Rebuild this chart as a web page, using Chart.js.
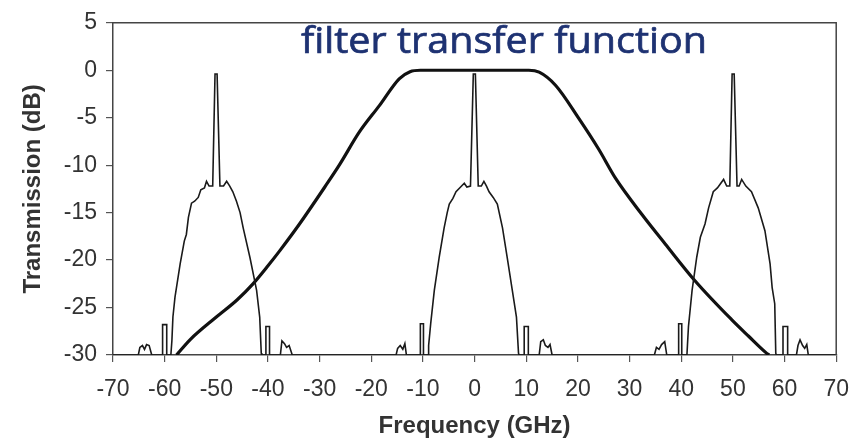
<!DOCTYPE html>
<html>
<head>
<meta charset="utf-8">
<script src="https://cdn.jsdelivr.net/npm/chart.js@4.4.0/dist/chart.umd.min.js"></script>
<style>
html, body { margin: 0; padding: 0; background: #fff; }
</style>
</head>
<body>
<canvas id="chart" width="863" height="444"></canvas>
<script>
var plotTitle = "filter transfer function";
var xTitle = "Frequency (GHz)";
var yTitle = "Transmission (dB)";
var xTicks = [-70, -60, -50, -40, -30, -20, -10, 0, 10, 20, 30, 40, 50, 60, 70];
var yTicks = [-30, -25, -20, -15, -10, -5, 0, 5];

/* measured spectrum, channel at -50 GHz */
var leftFreq = [-70, -65.1, -64.8, -64.3, -63.9, -63.5, -63.0, -62.5, -60.4, -60.4, -59.6, -59.6, -58.8, -58.6, -58.4, -58.0, -57.0, -56.2, -55.8, -55.4, -54.8, -54.2, -53.5, -53.0, -52.3, -51.9, -51.4, -50.7, -50.25, -49.85, -49.3, -48.6, -48.0, -47.4, -46.8, -46.1, -45.4, -44.8, -43.5, -42.2, -41.6, -41.3, -41.2, -40.4, -40.4, -39.7, -39.7, -37.6, -37.3, -36.8, -36.4, -35.9, -35.3];
var leftDb = [-30, -30, -29.2, -29.0, -29.4, -28.9, -29.0, -30, -30, -26.8, -26.8, -30, -30, -28.5, -26.0, -23.9, -20.4, -18.0, -17.3, -15.5, -14.0, -13.8, -13.4, -12.6, -12.4, -11.7, -12.2, -12.2, -0.4, -0.4, -12.2, -12.2, -11.7, -12.2, -12.8, -13.8, -15.0, -16.6, -19.7, -23.2, -26.0, -29.8, -30, -30, -27.0, -27.0, -30, -30, -28.5, -28.8, -29.2, -29.0, -30];

/* channel at 0 GHz */
var centerFreq = [-15.2, -14.9, -14.4, -13.9, -13.5, -13.2, -10.5, -10.5, -9.9, -9.9, -9.0, -8.9, -8.5, -7.8, -6.85, -5.9, -5.3, -4.9, -4.2, -3.6, -2.9, -2.0, -1.5, -0.8, -0.25, 0.15, 0.7, 1.3, 1.8, 2.3, 2.8, 3.6, 4.4, 5.4, 6.3, 7.3, 8.1, 8.5, 8.6, 9.6, 9.6, 10.4, 10.4, 12.5, 12.8, 13.3, 13.7, 14.2, 14.6, 15.0];
var centerDb = [-30, -29.3, -29.0, -29.4, -28.8, -30, -30, -26.7, -26.7, -30, -30, -29.0, -26.7, -23.2, -19.7, -16.6, -15.0, -14.1, -13.5, -12.8, -12.4, -11.9, -12.3, -12.2, -0.4, -0.4, -12.2, -12.2, -11.7, -12.2, -12.8, -13.4, -14.1, -16.6, -19.7, -23.2, -26.0, -29.8, -30, -30, -27.0, -27.0, -30, -30, -28.6, -28.4, -29.0, -29.2, -28.9, -30];

/* channel at +50 GHz */
var rightFreq = [34.8, 35.2, 35.7, 36.2, 36.8, 37.2, 39.5, 39.5, 40.1, 40.1, 41.1, 41.2, 41.4, 42.1, 43.0, 43.7, 44.6, 45.3, 46.2, 47.0, 48.2, 48.8, 49.4, 49.85, 50.25, 50.8, 51.2, 51.7, 52.5, 53.6, 54.9, 56.2, 57.2, 57.6, 58.1, 58.3, 58.4, 59.7, 59.7, 60.6, 60.6, 62.3, 62.6, 63.0, 63.5, 63.9, 64.3, 64.6, 70];
var rightDb = [-30, -29.2, -29.4, -28.9, -28.6, -30, -30, -26.7, -26.7, -30, -30, -29.0, -27.0, -23.2, -19.7, -17.6, -16.2, -14.5, -12.8, -12.4, -11.5, -12.2, -12.2, -0.4, -0.4, -12.2, -12.2, -11.5, -12.2, -12.8, -14.5, -16.9, -20.4, -22.9, -24.6, -29.8, -30, -30, -27.0, -27.0, -30, -30, -29.0, -28.4, -29.0, -29.3, -28.9, -30, -30];

/* filter transfer function */
var filterFreq = [-57.7, -55.1, -50, -46, -42.9, -40, -37.7, -33.9, -29, -26.2, -22.3, -18.4, -14.6, -12.5, -10.5, 10.5, 12.5, 15.7, 20.2, 24.0, 27.3, 32.4, 36.9, 42.7, 49.8, 53, 56.5, 57];
var filterDb = [-30, -28.4, -26.0, -24.2, -22.5, -20.6, -19.0, -16.2, -12.3, -10.0, -6.5, -3.7, -0.9, -0.15, 0, 0, -0.2, -1.6, -5.1, -8.3, -11.4, -15.2, -18.3, -22.2, -26.3, -28.0, -29.8, -30];

function toPoints(xs, ys) {
    var pts = [];
    for (var i = 0; i < xs.length; i++) {
        pts.push({x: xs[i], y: ys[i]});
    }
    return pts;
}

var spectrum = toPoints(leftFreq.concat(centerFreq, rightFreq), leftDb.concat(centerDb, rightDb));
var filter = toPoints(filterFreq, filterDb);

/* plot title inside the frame */
var titlePlugin = {
    id: "plotTitle",
    afterDatasetsDraw: function(chart) {
        var ctx = chart.ctx;
        ctx.save();
        ctx.font = '37px "Open Sans"';
        ctx.fillStyle = "#1e3272";
        ctx.strokeStyle = "#1e3272";
        ctx.lineWidth = 0.7;
        ctx.textBaseline = "alphabetic";
        var w = ctx.measureText(plotTitle).width;
        ctx.translate(301, 53);
        ctx.scale(406 / w, 1);
        ctx.fillText(plotTitle, 0, 0);
        ctx.strokeText(plotTitle, 0, 0);
        ctx.restore();
    }
};

/* top and right edges of the box */
var framePlugin = {
    id: "frame",
    afterDraw: function(chart) {
        var a = chart.chartArea;
        var ctx = chart.ctx;
        ctx.save();
        ctx.strokeStyle = "#444";
        ctx.lineWidth = 1.5;
        ctx.beginPath();
        ctx.moveTo(a.left, a.top);
        ctx.lineTo(a.right, a.top);
        ctx.lineTo(a.right, a.bottom);
        ctx.stroke();
        ctx.restore();
    }
};

var ctx = document.getElementById("chart").getContext("2d");
var myChart = new Chart(ctx, {
    type: "scatter",
    data: {
        datasets: [
            {
                label: "spectrum",
                data: spectrum,
                showLine: true,
                borderColor: "#1a1a1a",
                borderWidth: 1.6,
                pointRadius: 0,
                tension: 0
            },
            {
                label: "filter",
                data: filter,
                showLine: true,
                borderColor: "#111",
                borderWidth: 3.2,
                pointRadius: 0,
                cubicInterpolationMode: "monotone"
            }
        ]
    },
    options: {
        responsive: false,
        animation: false,
        layout: { padding: { left: 0, top: 20, right: 25, bottom: 0 } },
        plugins: {
            legend: { display: false },
            tooltip: { enabled: false }
        },
        scales: {
            x: {
                type: "linear",
                min: -70,
                max: 70,
                afterBuildTicks: function(scale) {
                    scale.ticks = xTicks.map(function(v) { return {value: v}; });
                },
                afterFit: function(scale) { scale.height = 89; },
                grid: { drawOnChartArea: false, tickLength: 7, color: "#555", lineWidth: 1.2 },
                border: { color: "#444", width: 1.5 },
                ticks: {
                    padding: 14,
                    color: "#333",
                    font: { family: "Liberation Sans", size: 23 },
                    maxRotation: 0,
                    autoSkip: false
                },
                title: {
                    display: true,
                    text: xTitle,
                    color: "#333",
                    font: { family: "Liberation Sans", size: 24, weight: "bold" },
                    padding: { top: 0, bottom: 3 }
                }
            },
            y: {
                min: -30,
                max: 5,
                afterBuildTicks: function(scale) {
                    scale.ticks = yTicks.map(function(v) { return {value: v}; });
                },
                afterFit: function(scale) { scale.width = 113; },
                grid: { drawOnChartArea: false, tickLength: 7, color: "#555", lineWidth: 1.2 },
                border: { color: "#444", width: 1.5 },
                ticks: {
                    padding: 9,
                    color: "#333",
                    font: { family: "Liberation Sans", size: 23 }
                },
                title: {
                    display: true,
                    text: yTitle,
                    color: "#333",
                    font: { family: "Liberation Sans", size: 24, weight: "bold" },
                    padding: { top: 19, bottom: 0 }
                }
            }
        }
    },
    plugins: [titlePlugin, framePlugin]
});
</script>
</body>
</html>
